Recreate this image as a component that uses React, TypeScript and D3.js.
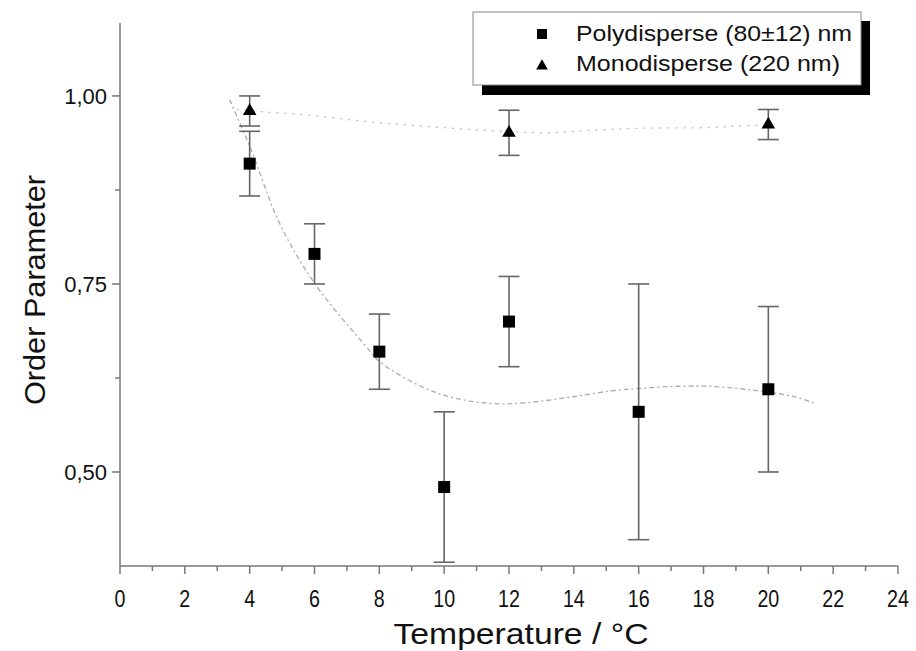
import React from "react";
import * as d3 from "d3";

// Measured order parameter vs. temperature
const polyTemp = [4, 6, 8, 10, 12, 16, 20];
const polyOrder = [0.91, 0.79, 0.66, 0.48, 0.7, 0.58, 0.61];
const polyErr = [0.043, 0.04, 0.05, 0.1, 0.06, 0.17, 0.11];

const monoTemp = [4, 12, 20];
const monoOrder = [0.98, 0.951, 0.962];
const monoErr = [0.02, 0.03, 0.02];

// Smoothed guide curves
const polyFitTemp = [3.38, 4.05, 4.92, 6, 7.59, 8, 9.33, 10.36, 11.49, 12.51, 13.95, 15.18, 16, 17.23, 18.15, 19.28, 20.82, 21.44];
const polyFitOrder = [0.995, 0.928, 0.831, 0.751, 0.667, 0.647, 0.613, 0.598, 0.591, 0.592, 0.6, 0.608, 0.611, 0.614, 0.614, 0.61, 0.6, 0.591];

const monoFitTemp = [3.6, 4.4, 5.7, 7.6, 9.0, 11.0, 13.2, 14.4, 16, 18.2, 19, 19.8];
const monoFitOrder = [0.982, 0.979, 0.975, 0.966, 0.961, 0.955, 0.951, 0.954, 0.957, 0.958, 0.96, 0.961];

const xTicks = d3.range(0, 25, 2);
const xMinorTicks = d3.range(1, 24, 2);
const yTicks = [0.5, 0.75, 1.0];
const yMinorTicks = [0.625, 0.875];
const legendLabels = ["Polydisperse (80±12) nm", "Monodisperse (220 nm)"];

const W = 916;
const H = 651;
const FONT = "'Liberation Sans', Arial, Helvetica, sans-serif";

export default function App() {
  const x = d3.scaleLinear().domain([0, 24]).range([120, 898]);
  const y = d3.scaleLinear().domain([0.375, 1.097]).range([566, 23]);

  const axisColor = "#777";
  const errColor = "#666";

  const fitLine = d3
    .line<[number, number]>()
    .x((d) => x(d[0]))
    .y((d) => y(d[1]))
    .curve(d3.curveCatmullRom.alpha(0.5));

  const polyFit = fitLine(polyFitTemp.map((t, i) => [t, polyFitOrder[i]] as [number, number])) || "";
  const monoFit = fitLine(monoFitTemp.map((t, i) => [t, monoFitOrder[i]] as [number, number])) || "";

  const tri = d3.symbol().type(d3.symbolTriangle).size(80)() || "";
  const triLegend = d3.symbol().type(d3.symbolTriangle).size(60)() || "";
  const sq = 12;
  const capW = 21;

  const errBar = (t: number, v: number, e: number, key: string) => {
    const cx = x(t);
    const top = y(v + e);
    const bot = y(Math.max(v - e, 0.375));
    return (
      <g key={key} stroke={errColor} strokeWidth={1.6}>
        <line x1={cx} x2={cx} y1={top} y2={bot} />
        <line x1={cx - capW / 2} x2={cx + capW / 2} y1={top} y2={top} />
        <line x1={cx - capW / 2} x2={cx + capW / 2} y1={bot} y2={bot} />
      </g>
    );
  };

  return (
    <svg
      width={W}
      height={H}
      style={{ position: "absolute", left: 0, top: 0, background: "#fff" }}
      fontFamily={FONT}
    >
      <rect width={W} height={H} fill="#fff" />

      {/* guide curves */}
      <path d={polyFit} fill="none" stroke="#aaa" strokeWidth={1.3} strokeDasharray="5,3,2,3" />
      <path d={monoFit} fill="none" stroke="#bbb" strokeWidth={1.3} strokeDasharray="2,6" />

      {/* axes */}
      <g stroke={axisColor} strokeWidth={1.5}>
        <line x1={x(0)} x2={x(0)} y1={y.range()[1]} y2={y.range()[0]} />
        <line x1={x(0)} x2={x(24)} y1={y.range()[0]} y2={y.range()[0]} />
        {xTicks.map((t) => (
          <line key={"xt" + t} x1={x(t)} x2={x(t)} y1={y.range()[0]} y2={y.range()[0] + 8} />
        ))}
        {xMinorTicks.map((t) => (
          <line key={"xm" + t} x1={x(t)} x2={x(t)} y1={y.range()[0]} y2={y.range()[0] + 5} />
        ))}
        {yTicks.map((v) => (
          <line key={"yt" + v} x1={x(0) - 8} x2={x(0)} y1={y(v)} y2={y(v)} />
        ))}
        {yMinorTicks.map((v) => (
          <line key={"ym" + v} x1={x(0) - 5} x2={x(0)} y1={y(v)} y2={y(v)} />
        ))}
      </g>

      {/* tick labels */}
      <g fill="#111">
        {xTicks.map((t) => (
          <text
            key={"xl" + t}
            transform={`translate(${x(t)},607) scale(0.82,1)`}
            textAnchor="middle"
            fontSize={24}
          >
            {t}
          </text>
        ))}
        {yTicks.map((v) => (
          <text key={"yl" + v} x={107} y={y(v) + 8} textAnchor="end" fontSize={22}>
            {v.toFixed(2).replace(".", ",")}
          </text>
        ))}
      </g>

      {/* axis titles */}
      <text x={521} y={644} textAnchor="middle" fontSize={30} fill="#111" textLength={255} lengthAdjust="spacingAndGlyphs">
        Temperature / °C
      </text>
      <text
        transform={`translate(45,290) rotate(-90)`}
        textAnchor="middle"
        fontSize={30}
        fill="#111"
        textLength={230}
        lengthAdjust="spacingAndGlyphs"
      >
        Order Parameter
      </text>

      {/* error bars */}
      {polyTemp.map((t, i) => errBar(t, polyOrder[i], polyErr[i], "pe" + i))}
      {monoTemp.map((t, i) => errBar(t, monoOrder[i], monoErr[i], "me" + i))}

      {/* markers */}
      {polyTemp.map((t, i) => (
        <rect key={"ps" + i} x={x(t) - sq / 2} y={y(polyOrder[i]) - sq / 2} width={sq} height={sq} fill="#000" />
      ))}
      {monoTemp.map((t, i) => (
        <path key={"mt" + i} d={tri} transform={`translate(${x(t)},${y(monoOrder[i])})`} fill="#000" />
      ))}

      {/* legend */}
      <rect x={482} y={21} width={388} height={74} fill="#000" />
      <rect x={473} y={12} width={388} height={73} fill="#fff" stroke="#888" strokeWidth={1} />
      <rect x={537} y={29} width={10} height={10} fill="#000" />
      <path d={triLegend} transform="translate(542,66)" fill="#000" />
      <text x={576} y={41} fontSize={21.5} fill="#111" textLength={276} lengthAdjust="spacingAndGlyphs">
        {legendLabels[0]}
      </text>
      <text x={576} y={71} fontSize={21.5} fill="#111" textLength={264} lengthAdjust="spacingAndGlyphs">
        {legendLabels[1]}
      </text>
    </svg>
  );
}
